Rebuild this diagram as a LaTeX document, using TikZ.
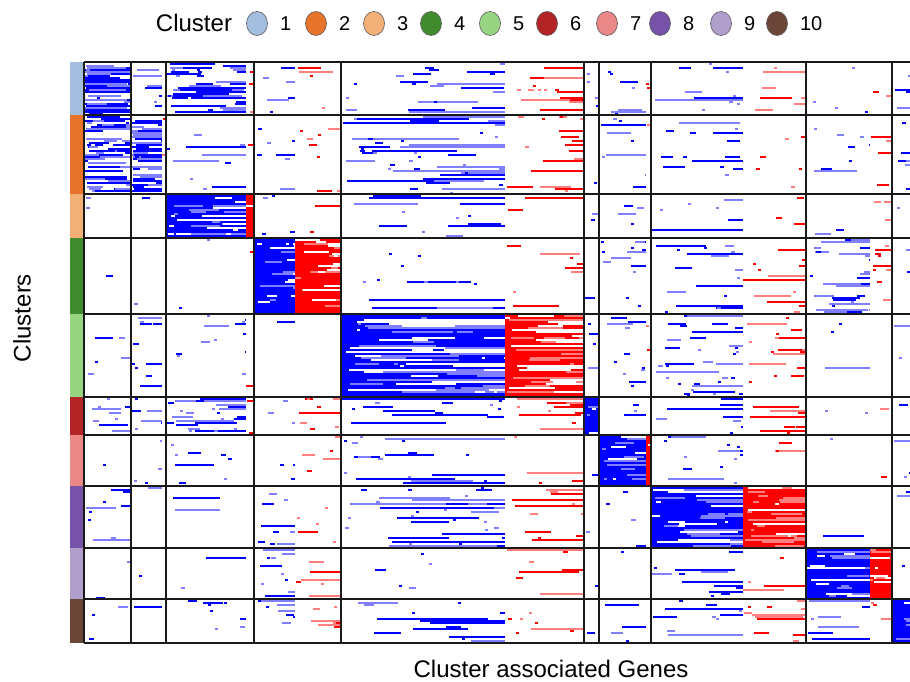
\documentclass[tikz,border=0pt]{standalone}
\usepackage{fontspec}
\setmainfont{Liberation Sans}
\usetikzlibrary{positioning,shapes.geometric}
\definecolor{clA}{HTML}{A4BEE0}
\definecolor{clB}{HTML}{E8742C}
\definecolor{clC}{HTML}{F2B077}
\definecolor{clD}{HTML}{3F8B2E}
\definecolor{clE}{HTML}{98D583}
\definecolor{clF}{HTML}{B32426}
\definecolor{clG}{HTML}{EA8787}
\definecolor{clH}{HTML}{7752A9}
\definecolor{clI}{HTML}{B19FCB}
\definecolor{clJ}{HTML}{6B4638}
\definecolor{hmlightblue}{HTML}{7F7FFF}
\definecolor{hmblue}{HTML}{0000FF}
\definecolor{hmlightred}{HTML}{FF7F7F}
\definecolor{hmred}{HTML}{FF0000}
\definecolor{gridcol}{HTML}{1A1A1A}
\tikzset{
  legdot/.style={ellipse, draw=black!65, line width=0.6pt, minimum width=21pt,
    minimum height=24pt, inner sep=0pt},
  legnum/.style={font=\fontsize{20}{20}\selectfont, inner sep=0pt},
  bigtext/.style={font=\fontsize{24}{24}\selectfont, inner sep=0pt},
  gridline/.style={draw=gridcol, line width=2pt}
}
\def\hmrows{62/115/clA, 115/194/clB, 194/238/clC, 238/314/clD, 314/397/clE,
  397/435/clF, 435/486/clG, 486/548/clH, 548/599/clI, 599/643/clJ}
\def\hmcols{84/131/131, 131/166/162, 166/254/246, 254/341/295, 341/584/505,
  584/599/599, 599/651/646, 651/806/743, 806/892/870, 892/940/940}
\def\hmdens{3,.5,1.2,.25,.35,.6,.4,.25,.15,.5,
  1.8,3,.2,.25,.4,.15,.3,.2,.2,.5,
  .15,.08,9,.2,.15,.5,.2,.15,.15,.25,
  .04,.06,.06,9,.12,.12,.4,.28,.7,.12,
  .15,.4,.2,.03,9,.45,.4,.5,.05,.12,
  .6,.6,1.0,.4,.3,9,.2,.35,.12,.12,
  .06,.3,.2,.2,.25,.12,9,.25,.06,.35,
  .4,.06,.06,.3,.4,.06,.2,9,.04,.2,
  .1,.06,.06,.45,.12,.06,.06,.25,9,.35,
  .2,.12,.25,.5,.25,.12,.2,.4,.35,9}
\newcommand{\hmpick}[2]{%
  \ifnum#1=1
    \ifnum#2=1 \def\hmcol{hmred}\else \def\hmcol{hmlightred}\fi
  \else
    \ifnum#2=1 \def\hmcol{hmblue}\else \def\hmcol{hmlightblue}\fi
  \fi}
\newcommand{\hmsparse}[8]{%
  \foreach \k in {1,...,#6}{
    \pgfmathtruncatemacro\hmy{#3+1+floor(rnd*((#4-#3-2)/2))*2}
    \pgfmathtruncatemacro\hmx{round(#1+1+(#2-#1-4)*rnd^#8)}
    \pgfmathtruncatemacro\isred{\hmx>=#5}
    \pgfmathtruncatemacro\isdark{rnd<0.55}
    \pgfmathsetmacro\hmlim{\isred ? #2-1 : #5}
    \pgfmathtruncatemacro\hme{round(min(\hmlim,\hmx+2.5+(#2-#1)*rnd^#7))}
    \hmpick{\isred}{\isdark}
    \fill[fill=\hmcol] (\hmx,\hmy) rectangle (\hme,\hmy+2);
  }}
\newcommand{\hmdense}[6]{%
  \fill[hmblue] (#1,#3) rectangle (#5,#4);
  \fill[hmred] (#5,#3) rectangle (#2,#4);
  \foreach \k in {1,...,#6}{
    \pgfmathtruncatemacro\hmy{#3+1+floor(rnd*((#4-#3-2)/2))*2}
    \pgfmathtruncatemacro\hmx{round(#1+rnd*(#2-#1-3))}
    \pgfmathtruncatemacro\isred{\hmx>=#5}
    \pgfmathtruncatemacro\istone{rnd<0.55}
    \pgfmathsetmacro\hmlim{\isred ? #2 : #5}
    \pgfmathtruncatemacro\hme{round(min(\hmlim,\hmx+3+(#2-#1)*rnd^2))}
    \ifnum\istone=1 \hmpick{\isred}{0}\else \def\hmcol{white}\fi
    \fill[fill=\hmcol] (\hmx,\hmy) rectangle (\hme,\hmy+2);
  }}

\begin{document}
\begin{tikzpicture}[x=1pt, y=-1pt]
  \useasboundingbox (0,0) rectangle (910,682);
  \pgfmathsetseed{2024}
  \node[bigtext, anchor=base] (legtitle) at (194,32) {Cluster};
  \foreach \n/\xc/\cl in {1/257/clA, 2/316/clB, 3/374/clC, 4/431/clD, 5/490/clE,
      6/547/clF, 7/607/clG, 8/660/clH, 9/721/clI, 10/777/clJ} {
    \node[legdot, fill=\cl] (dot\n) at (\xc,23.5) {};
    \node[legnum, right=12pt of dot\n] (num\n) {\n};
  }
  \foreach \ya/\yb/\cl in \hmrows
    \fill[\cl] (70,\ya) rectangle (84,\yb);
  \begin{scope}
    \clip (84,62) rectangle (910,643);
    \foreach \ya/\yb/\cl [count=\i] in \hmrows {
      \foreach \xa/\xb/\xr [count=\j] in \hmcols {
        \pgfmathtruncatemacro\idx{10*(\i-1)+\j-1}
        \pgfmathsetmacro\dd{{\hmdens}[\idx]}
        \pgfmathtruncatemacro\isdense{\dd>5}
        \ifnum\isdense=1
          \pgfmathtruncatemacro\nn{max(1,(\yb-\ya)/140*(\xb-\xa))}
          \hmdense{\xa}{\xb}{\ya}{\yb}{\xr}{\nn}
        \else
          \pgfmathtruncatemacro\nn{max(1,\dd*(\yb-\ya)/110*(\xb-\xa))}
          \pgfmathsetmacro\ex{max(0.5,min(4,2.4/\dd))}
          \pgfmathsetmacro\sb{max(1,\dd*1.2)}
          \hmsparse{\xa}{\xb}{\ya}{\yb}{\xr}{\nn}{\ex}{\sb}
        \fi
      }
    }
  \end{scope}
  \foreach \yy in {62,115,194,238,314,397,435,486,548,599,643}
    \draw[gridline] (84,\yy) -- (910,\yy);
  \foreach \xx in {84,131,166,254,341,584,599,651,806,892}
    \draw[gridline] (\xx,62) -- (\xx,643);
  \node[bigtext, anchor=base] (xlab) at (551,677) {Cluster associated Genes};
  \node[bigtext, rotate=90] (ylab) at (22,318) {Clusters};
\end{tikzpicture}
\end{document}
